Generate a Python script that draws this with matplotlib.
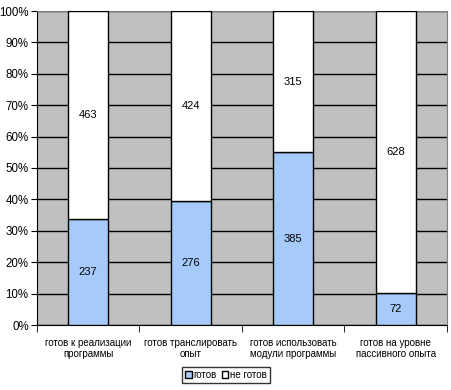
import matplotlib
matplotlib.use("Agg")
import matplotlib.pyplot as plt
import numpy as np

categories = ["готов к реализации\nпрограммы", "готов транслировать\nопыт",
              "готов использовать\nмодули программы", "готов на уровне\nпассивного опыта"]
ready = [237, 276, 385, 72]
not_ready = [463, 424, 315, 628]
series_names = ["готов", "не готов"]
yticks = [0, 10, 20, 30, 40, 50, 60, 70, 80, 90, 100]

plt.rcParams['font.family'] = ['Liberation Sans', 'DejaVu Sans']
fig = plt.figure(figsize=(4.52, 3.90), dpi=100)
ax = fig.add_axes([37/452, 1-325/390, (447-37)/452, (325-11)/390])
ax.set_facecolor('#c0c0c0')

r = np.array(ready, float); n = np.array(not_ready, float)
tot = r + n
rp = r / tot * 100; np_ = n / tot * 100
x = np.arange(len(categories))
w = 0.39
ax.set_axisbelow(True)
ax.yaxis.grid(True, color='black', linewidth=1)
b1 = ax.bar(x, rp, w, color='#a6cafa', edgecolor='black', linewidth=1, label=series_names[0], zorder=3)
b2 = ax.bar(x, np_, w, bottom=rp, color='white', edgecolor='black', linewidth=1, label=series_names[1], zorder=3)
for i in range(len(x)):
    ax.text(x[i], rp[i]/2, str(ready[i]), ha='center', va='center', fontsize=8, zorder=4)
    ax.text(x[i], rp[i] + np_[i]/2, str(not_ready[i]), ha='center', va='center', fontsize=8, zorder=4)

ax.set_xlim(-0.5, len(x)-0.5)
ax.set_ylim(0, 100)
ax.set_yticks(yticks)
ax.set_yticklabels([f"{t}%" for t in yticks], fontsize=8.3)
ax.set_xticks(x)
ax.set_xticklabels(categories, fontsize=7)
ax.tick_params(axis='x', length=0, pad=9)
ax.set_xticks(np.arange(len(x)+1) - 0.5, minor=True)
ax.tick_params(axis='x', which='minor', length=5, direction='out', color='black')
ax.tick_params(axis='y', length=4, direction='out', pad=2)
for s in ['top', 'right']:
    ax.spines[s].set_color('#808080')
for s in ['left', 'bottom']:
    ax.spines[s].set_color('black')

leg = fig.legend(handles=[b1, b2], labels=series_names, loc='center', bbox_to_anchor=(226/452, 1-375/390),
                 ncol=2, fontsize=7, frameon=True, fancybox=False, edgecolor='black',
                 handlelength=0.7, handleheight=0.7, handletextpad=0.2, columnspacing=0.5,
                 borderpad=0.3)
leg.get_frame().set_linewidth(1)
fig.savefig("out.png", dpi=100)
